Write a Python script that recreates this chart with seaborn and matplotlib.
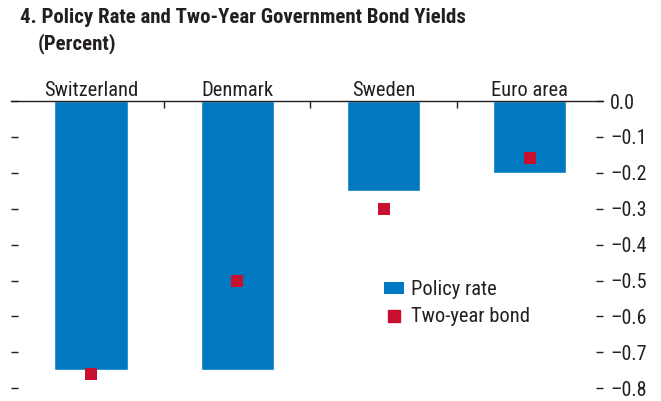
import matplotlib
matplotlib.use('Agg')
import matplotlib.pyplot as plt
from matplotlib.ticker import FixedLocator
from matplotlib.patches import Patch
from matplotlib.lines import Line2D
import seaborn as sns
import pandas as pd

countries = ["Switzerland", "Denmark", "Sweden", "Euro area"]
policy_rate = [-0.75, -0.75, -0.25, -0.20]
two_year_bond = [-0.76, -0.50, -0.30, -0.16]
y_ticks = [0.0, -0.1, -0.2, -0.3, -0.4, -0.5, -0.6, -0.7, -0.8]

BLUE = "#0079C1"
RED = "#C8102E"
INK = "#231F20"

sns.set_theme(style="white")
# narrow fonts first, if any are there
plt.rcParams['font.family'] = ['Roboto Condensed', 'Liberation Sans Narrow', 'Liberation Sans', 'DejaVu Sans']

df = pd.DataFrame({"country": countries, "policy": policy_rate, "bond": two_year_bond})

fig = plt.figure(figsize=(6.61, 4.01), dpi=100)
ax = fig.add_axes([11 / 661, 1 - 395.4 / 401, 592 / 661, 294.4 / 401])

sns.barplot(data=df, x="country", y="policy", color=BLUE, width=0.5,
            saturation=1, ax=ax)
sns.stripplot(data=df, x="country", y="bond", color=RED, marker="s", size=8.5,
              jitter=False, linewidth=0, ax=ax, zorder=3)

ax.set_xlim(-0.547, 3.50)
ax.set_ylim(-0.82, 0)
ax.set_xlabel(None)
ax.set_ylabel(None)

for side in ["left", "right", "bottom"]:
    ax.spines[side].set_visible(False)
ax.spines["top"].set_color(INK)
ax.spines["top"].set_linewidth(1.0)

# category labels above the zero line, small ticks between them
ax.xaxis.set_minor_locator(FixedLocator([0.5, 1.5, 2.5]))
ax.tick_params(axis="x", which="major", top=False, bottom=False,
               labeltop=True, labelbottom=False, labelsize=14.8, colors=INK, pad=-5)
ax.tick_params(axis="x", which="minor", top=True, bottom=False,
               direction="in", length=5, width=1, color=INK)

ax.set_yticks(y_ticks)
ax.set_yticklabels([f"{v:.1f}".replace("-", "\u2013") if v != 0 else "0.0" for v in y_ticks])
ax.tick_params(axis="y", left=True, right=True, labelleft=False, labelright=True,
               direction="in", length=5, width=1, color=INK, labelsize=14.5,
               labelcolor=INK, pad=5)

handles = [Patch(facecolor=BLUE, edgecolor="none", label="Policy rate"),
           Line2D([], [], color=RED, marker="s", linestyle="none", markersize=9,
                  label="Two-year bond")]
fig.legend(handles=handles, loc="upper left", bbox_to_anchor=(384 / 661, 1 - 280 / 401),
           frameon=False, fontsize=14.8, handlelength=0.95, handleheight=0.5,
           handletextpad=0.35, labelspacing=0.4, borderpad=0, borderaxespad=0,
           labelcolor=INK)

fig.text(20 / 661, 1 - 8 / 401, "4. Policy Rate and Two-Year Government Bond Yields",
         fontsize=15, fontweight="bold", color=INK, va="top", ha="left")
fig.text(38 / 661, 1 - 33 / 401, "(Percent)",
         fontsize=15, fontweight="bold", color=INK, va="top", ha="left")

fig.savefig("out.png", dpi=100, facecolor="white")
plt.close(fig)
